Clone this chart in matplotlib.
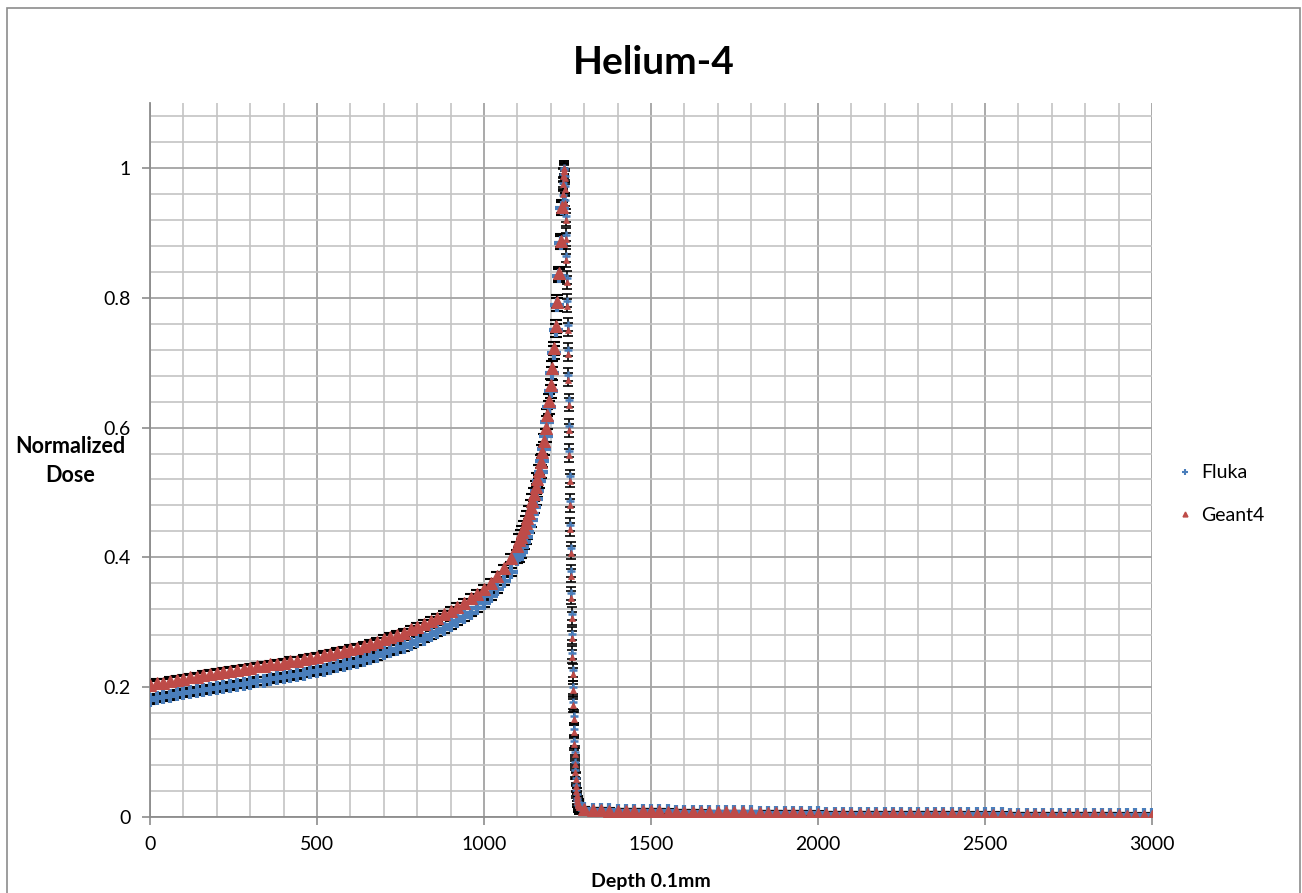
import numpy as np
import matplotlib.pyplot as plt
from matplotlib.patches import Rectangle
from matplotlib.ticker import MultipleLocator, FuncFormatter

plt.rcParams['font.family'] = ['Lato', 'DejaVu Sans']

# depth bins (units of 0.1 mm): coarse plateau, finer rise, single-bin distal falloff, coarse tail
depth_plateau = np.arange(0, 1101, 20)
depth_rise = np.arange(1105, 1236, 5)
depth_falloff = np.arange(1236, 1286, 1)
depth_tail = np.arange(1300, 3001, 25)

geant4_plateau = [0.203, 0.206, 0.207, 0.209, 0.211, 0.213, 0.215, 0.216, 0.219, 0.220,
                  0.222, 0.223, 0.225, 0.227, 0.228, 0.230, 0.232, 0.233, 0.235, 0.236,
                  0.238, 0.240, 0.241, 0.243, 0.245, 0.247, 0.249, 0.251, 0.254, 0.256,
                  0.259, 0.261, 0.264, 0.267, 0.270, 0.274, 0.277, 0.281, 0.284, 0.289,
                  0.293, 0.297, 0.302, 0.307, 0.312, 0.318, 0.324, 0.330, 0.337, 0.344,
                  0.352, 0.361, 0.371, 0.383, 0.399, 0.418]
geant4_rise = [0.426, 0.432, 0.439, 0.446, 0.453, 0.461, 0.469, 0.478, 0.487, 0.497,
               0.508, 0.520, 0.533, 0.547, 0.563, 0.580, 0.599, 0.619, 0.641, 0.665,
               0.692, 0.722, 0.756, 0.794, 0.838, 0.888, 0.940]
geant4_falloff = [0.960, 0.975, 0.988, 0.996, 1.000, 0.995, 0.985, 0.968, 0.946, 0.920,
                  0.890, 0.858, 0.824, 0.788, 0.751, 0.713, 0.674, 0.635, 0.596, 0.557,
                  0.518, 0.480, 0.443, 0.407, 0.372, 0.338, 0.306, 0.276, 0.247, 0.220,
                  0.195, 0.172, 0.151, 0.131, 0.113, 0.097, 0.082, 0.069, 0.058, 0.048,
                  0.040, 0.034, 0.029, 0.025, 0.022, 0.020, 0.018, 0.017, 0.016, 0.015]
geant4_tail = [0.012, 0.011, 0.011, 0.010, 0.010, 0.010, 0.009, 0.009, 0.009, 0.009,
               0.008, 0.008, 0.008, 0.008, 0.007, 0.007, 0.007, 0.007, 0.007, 0.007,
               0.006, 0.006, 0.006, 0.006, 0.006, 0.006, 0.006, 0.005, 0.005, 0.005,
               0.005, 0.005, 0.005, 0.005, 0.005, 0.004, 0.004, 0.004, 0.004, 0.004,
               0.004, 0.004, 0.004, 0.004, 0.004, 0.004, 0.003, 0.003, 0.003, 0.003,
               0.003, 0.003, 0.003, 0.003, 0.003, 0.003, 0.003, 0.003, 0.003, 0.003,
               0.003, 0.003, 0.003, 0.003, 0.003, 0.002, 0.002, 0.002, 0.002]

fluka_plateau = [0.180, 0.183, 0.185, 0.187, 0.189, 0.191, 0.192, 0.194, 0.196, 0.197,
                 0.199, 0.200, 0.202, 0.204, 0.205, 0.207, 0.209, 0.210, 0.212, 0.214,
                 0.216, 0.217, 0.219, 0.221, 0.223, 0.225, 0.227, 0.229, 0.232, 0.234,
                 0.237, 0.239, 0.242, 0.245, 0.248, 0.252, 0.255, 0.259, 0.262, 0.267,
                 0.271, 0.275, 0.280, 0.285, 0.290, 0.296, 0.302, 0.308, 0.315, 0.322,
                 0.330, 0.340, 0.351, 0.363, 0.378, 0.397]
fluka_rise = [0.403, 0.409, 0.416, 0.423, 0.431, 0.439, 0.448, 0.457, 0.467, 0.478,
              0.490, 0.503, 0.517, 0.532, 0.549, 0.567, 0.587, 0.608, 0.631, 0.656,
              0.684, 0.715, 0.750, 0.789, 0.834, 0.885, 0.938]
fluka_falloff = [0.958, 0.976, 0.990, 0.998, 1.000, 0.997, 0.988, 0.972, 0.951, 0.926,
                 0.897, 0.865, 0.831, 0.795, 0.758, 0.720, 0.681, 0.642, 0.603, 0.564,
                 0.525, 0.487, 0.450, 0.414, 0.379, 0.345, 0.313, 0.282, 0.253, 0.226,
                 0.200, 0.177, 0.155, 0.135, 0.117, 0.100, 0.085, 0.072, 0.060, 0.050,
                 0.042, 0.035, 0.030, 0.026, 0.023, 0.020, 0.018, 0.017, 0.016, 0.015]
fluka_tail = [0.012, 0.011, 0.011, 0.011, 0.010, 0.010, 0.010, 0.009, 0.009, 0.009,
              0.009, 0.008, 0.008, 0.008, 0.008, 0.007, 0.007, 0.007, 0.007, 0.007,
              0.007, 0.006, 0.006, 0.006, 0.006, 0.006, 0.006, 0.006, 0.006, 0.005,
              0.005, 0.005, 0.005, 0.005, 0.005, 0.005, 0.005, 0.004, 0.004, 0.004,
              0.004, 0.004, 0.004, 0.004, 0.004, 0.004, 0.004, 0.004, 0.004, 0.004,
              0.004, 0.003, 0.003, 0.003, 0.003, 0.003, 0.003, 0.003, 0.003, 0.003,
              0.003, 0.003, 0.003, 0.003, 0.003, 0.003, 0.003, 0.003, 0.003]

# statistical uncertainty per region
err_plateau = 0.006
err_peak = 0.010
err_tail = 0.003

y_ticks = [0, 0.2, 0.4, 0.6, 0.8, 1.0]
x_ticks = [0, 500, 1000, 1500, 2000, 2500, 3000]

FLUKA_BLUE = '#4A7EBB'
GEANT4_RED = '#BE4B48'

W, H = 1302, 893
fig = plt.figure(figsize=(W / 100, H / 100), dpi=100)
ax = fig.add_axes([150 / W, 1 - 817 / H, 1002 / W, 714 / H])


def draw_segment(depth, fluka, geant4, err, big=True):
    # black error bars first, then Fluka crosses, then Geant4 triangles on top
    for v in (fluka, geant4):
        ax.errorbar(depth, v, yerr=err, fmt='none', ecolor='black',
                    elinewidth=1.5 if big else 1.2, capsize=4 if big else 3.5,
                    capthick=1.5 if big else 1.2, zorder=2)
    ax.plot(depth, fluka, linestyle='none', marker='+',
            markersize=10 if big else 6, markeredgewidth=3 if big else 1.8,
            color=FLUKA_BLUE, zorder=3)
    ax.plot(depth, geant4, linestyle='none', marker='^',
            markersize=8 if big else 4, markeredgewidth=0.8 if big else 0.5,
            color=GEANT4_RED, zorder=4)


draw_segment(depth_plateau, fluka_plateau, geant4_plateau, err_plateau)
draw_segment(depth_rise, fluka_rise, geant4_rise, err_peak)
draw_segment(depth_falloff, fluka_falloff, geant4_falloff, err_peak, big=False)
draw_segment(depth_tail, fluka_tail, geant4_tail, err_tail)

ax.set_xlim(0, 3000)
ax.set_ylim(0, 1.1)
ax.set_xticks(x_ticks)
ax.set_yticks(y_ticks)
ax.xaxis.set_minor_locator(MultipleLocator(100))
ax.yaxis.set_minor_locator(MultipleLocator(0.04))
ax.yaxis.set_major_formatter(FuncFormatter(lambda v, p: '{:g}'.format(round(v, 2))))

ax.grid(which='minor', color='#c4c4c4', linewidth=1.2, zorder=0)
ax.grid(which='major', color='#a3a3a3', linewidth=1.3, zorder=0)
ax.set_axisbelow(True)

for s in ['top', 'right']:
    ax.spines[s].set_visible(False)
for s in ['left', 'bottom']:
    ax.spines[s].set_color('#8c8c8c')
    ax.spines[s].set_linewidth(1.3)
ax.tick_params(which='major', direction='out', length=6, width=1.2, color='#8c8c8c',
               labelsize=14, pad=8)
ax.tick_params(which='minor', length=0)

fig.text(654 / W, 1 - 63 / H, 'Helium-4', ha='center', va='center',
         fontsize=28, fontweight='bold')
fig.text(70 / W, 1 - 461 / H, 'Normalized\nDose', ha='center', va='center',
         fontsize=15.5, fontweight='bold', multialignment='center', linespacing=1.45)
fig.text(651 / W, 1 - 882 / H, 'Depth 0.1mm', ha='center', va='center',
         fontsize=14, fontweight='bold')

legend_handles = [
    plt.Line2D([], [], linestyle='none', marker='+', markersize=5,
               markeredgewidth=1.5, color=FLUKA_BLUE),
    plt.Line2D([], [], linestyle='none', marker='^', markersize=3.5,
               color=GEANT4_RED),
]
fig.legend(legend_handles, ['Fluka', 'Geant4'], loc='center left',
           bbox_to_anchor=(1160 / W, 1 - 494 / H), frameon=False, fontsize=14,
           handlelength=0.8, handletextpad=0.4, labelspacing=1.3)

# outer chart border
fig.patches.append(Rectangle((7 / W, -0.01), 1293 / W, 1.01 - 8 / H,
                             transform=fig.transFigure, fill=False,
                             edgecolor='#8c8c8c', linewidth=1.2))

fig.savefig('out.png', dpi=100)
